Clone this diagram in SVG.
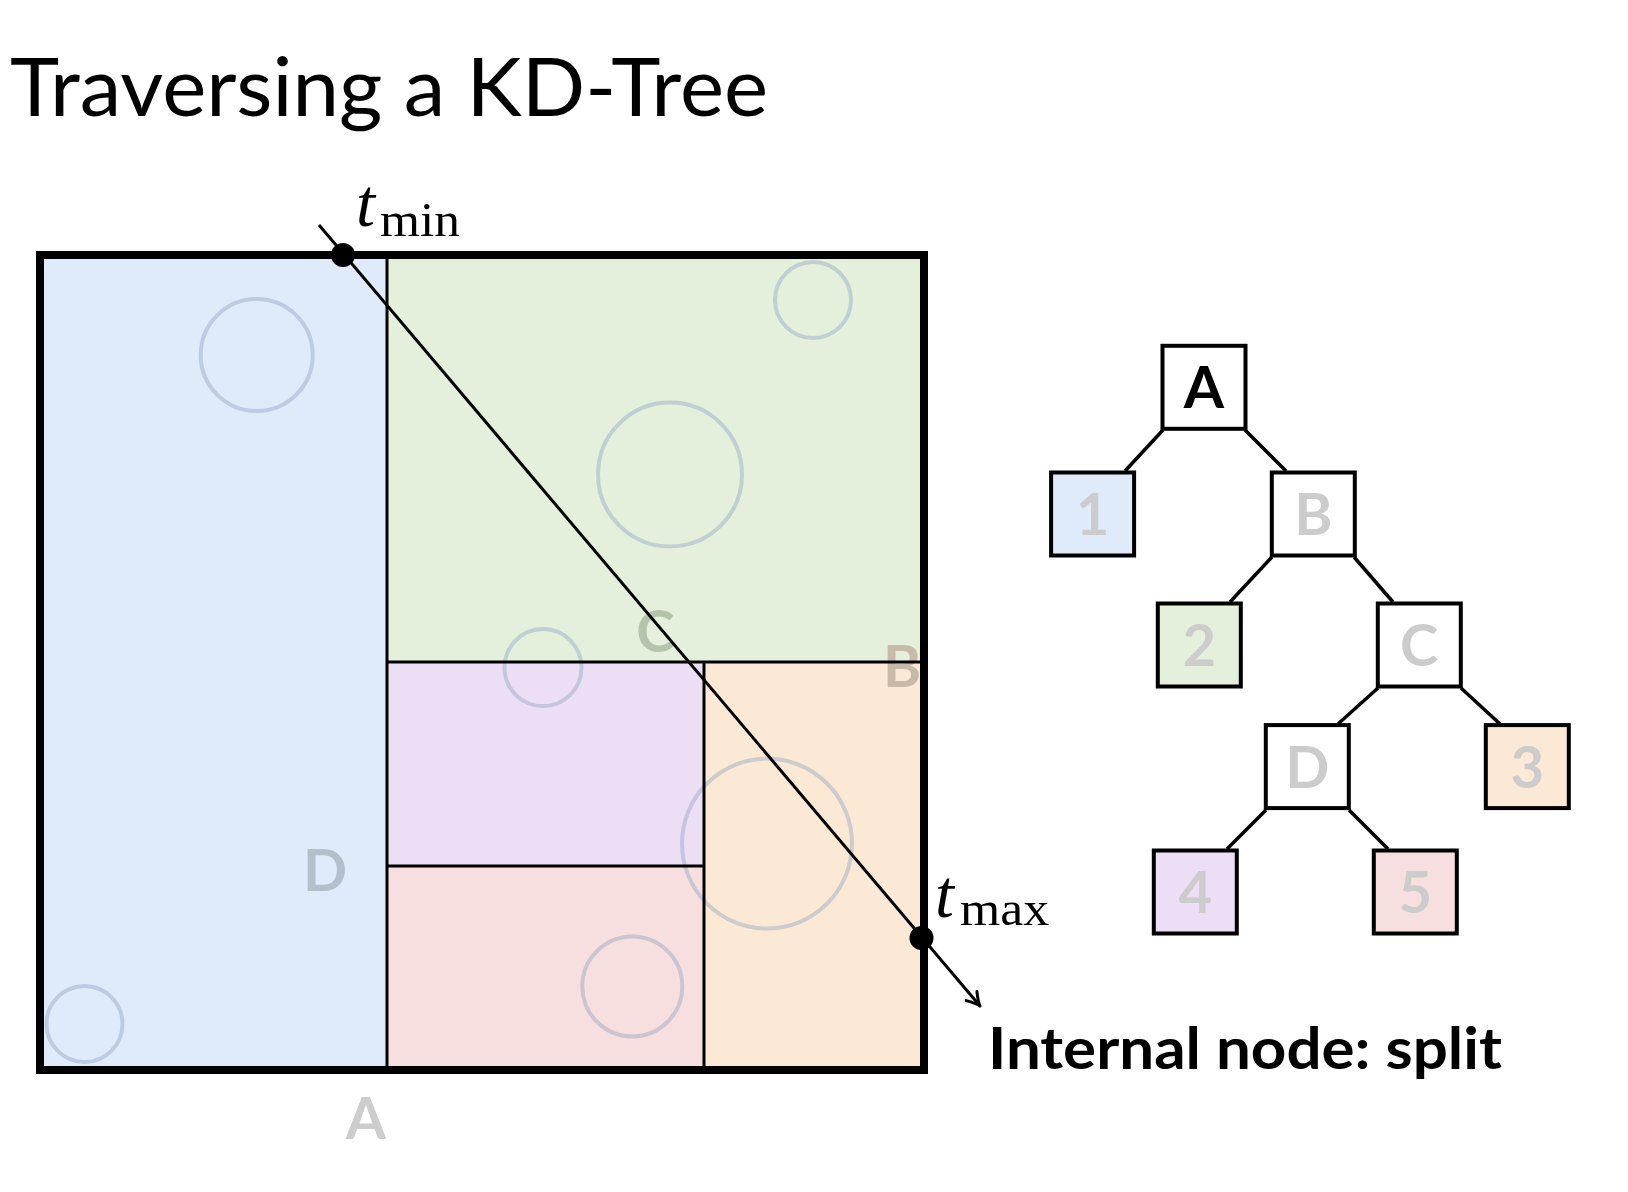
<svg xmlns="http://www.w3.org/2000/svg" width="1628" height="1192" viewBox="0 0 1628 1192">
<defs>
<style>
.title{font-family:Lato,"Open Sans","Liberation Sans",sans-serif;font-size:82px;font-weight:400;fill:#000}
.lbl{font-family:Lato,"Open Sans","Liberation Sans",sans-serif;font-size:58px;font-weight:700;text-anchor:middle}
.gray{fill:#cccccc}
.circ{fill:none;stroke:#8fa3c0;stroke-opacity:0.42;stroke-width:4}
.split{stroke:#000;stroke-width:3;fill:none}
.box{stroke:#000;stroke-width:4}
.edge{stroke:#000;stroke-width:3.5;fill:none}
.math{font-family:"Liberation Serif","DejaVu Serif",serif;fill:#000}
.cap{font-family:Lato,"Open Sans","Liberation Sans",sans-serif;font-size:57px;font-weight:700;fill:#000}
</style>
<marker id="arr" markerUnits="userSpaceOnUse" markerWidth="30" markerHeight="30" refX="0" refY="0" orient="auto" overflow="visible">
<path d="M -13 -7 Q -5 -1.5 0 0 Q -5 1.5 -13 7" fill="none" stroke="#000" stroke-width="3" stroke-linecap="round" stroke-linejoin="round"/>
</marker>
</defs>
<rect width="1628" height="1192" fill="#fff"/>
<text class="title" x="10" y="116" textLength="758" lengthAdjust="spacingAndGlyphs">Traversing a KD-Tree</text>

<g id="space">
<rect x="40" y="255" width="347" height="815" fill="#dfebfb"/>
<rect x="387" y="255" width="537" height="407" fill="#e4f0dc"/>
<rect x="387" y="662" width="317" height="204" fill="#ecdff5"/>
<rect x="387" y="866" width="317" height="204" fill="#f7dfdf"/>
<rect x="704" y="662" width="220" height="408" fill="#fbe9d6"/>
<circle class="circ" cx="256.7" cy="355" r="56"/>
<circle class="circ" cx="84.5" cy="1024" r="38"/>
<circle class="circ" cx="813" cy="300" r="38"/>
<circle class="circ" cx="670" cy="474.5" r="72"/>
<circle class="circ" cx="543" cy="667.6" r="38.5"/>
<circle class="circ" cx="767" cy="843.6" r="85"/>
<circle class="circ" cx="632.3" cy="986.4" r="50"/>
<text class="lbl" x="325" y="891" fill="#b4bfcc">D</text>
<text class="lbl" x="655.5" y="652" fill="#b5c3ad">C</text>
<text class="lbl" x="902" y="687" fill="#c8baa9">B</text>
<text class="lbl" x="366" y="1139" fill="#cdcdcd">A</text>
<line class="split" x1="387" y1="255" x2="387" y2="1070"/>
<line class="split" x1="387" y1="662" x2="924" y2="662"/>
<line class="split" x1="704" y1="662" x2="704" y2="1070"/>
<line class="split" x1="387" y1="866" x2="704" y2="866"/>
<rect x="40" y="255" width="884" height="815" fill="none" stroke="#000" stroke-width="8"/>
</g>

<g id="ray">
<line x1="319" y1="225" x2="980" y2="1006" stroke="#000" stroke-width="3" marker-end="url(#arr)"/>
<circle cx="343" cy="255" r="12" fill="#000"/>
<circle cx="921.5" cy="938" r="12" fill="#000"/>
<text class="math" x="356" y="226"><tspan font-style="italic" font-size="68">t</tspan><tspan font-size="48" x="380" y="236" textLength="80" lengthAdjust="spacingAndGlyphs">min</tspan></text>
<text class="math" x="935" y="917"><tspan font-style="italic" font-size="68">t</tspan><tspan font-size="48" x="960" y="925" textLength="89" lengthAdjust="spacingAndGlyphs">max</tspan></text>
</g>

<g id="connectors">
<line class="edge" x1="1163" y1="430" x2="1125" y2="471"/>
<line class="edge" x1="1245" y1="430" x2="1286" y2="471"/>
<line class="edge" x1="1272" y1="557" x2="1230" y2="602"/>
<line class="edge" x1="1354" y1="557" x2="1393" y2="602"/>
<line class="edge" x1="1378" y1="688" x2="1338" y2="724"/>
<line class="edge" x1="1461" y1="688" x2="1500" y2="724"/>
<line class="edge" x1="1266" y1="810" x2="1227" y2="849"/>
<line class="edge" x1="1349" y1="810" x2="1388" y2="849"/>
</g>

<g id="node-A"><rect class="box" x="1162.5" y="345.8" width="83" height="83" fill="#fff"/><text class="lbl" x="1204" y="408.3" fill="#000">A</text></g>
<g id="node-1"><rect class="box" x="1051.1" y="472.5" width="83" height="83" fill="#dfebfb"/><text class="lbl gray" x="1092.6" y="535">1</text></g>
<g id="node-B"><rect class="box" x="1271.8" y="472.5" width="83" height="83" fill="#fff"/><text class="lbl gray" x="1313.3" y="535">B</text></g>
<g id="node-2"><rect class="box" x="1157.8" y="603.5" width="83" height="83" fill="#e4f0dc"/><text class="lbl gray" x="1199.3" y="666">2</text></g>
<g id="node-C"><rect class="box" x="1377.8" y="603.5" width="83" height="83" fill="#fff"/><text class="lbl gray" x="1419.3" y="666">C</text></g>
<g id="node-D"><rect class="box" x="1265.8" y="725.1" width="83" height="83" fill="#fff"/><text class="lbl gray" x="1307.3" y="787.6">D</text></g>
<g id="node-3"><rect class="box" x="1485.8" y="725.1" width="83" height="83" fill="#fbe9d6"/><text class="lbl gray" x="1527.3" y="787.6">3</text></g>
<g id="node-4"><rect class="box" x="1153.8" y="850.5" width="83" height="83" fill="#ecdff5"/><text class="lbl gray" x="1195.3" y="913">4</text></g>
<g id="node-5"><rect class="box" x="1373.8" y="850.5" width="83" height="83" fill="#f7dfdf"/><text class="lbl gray" x="1415.3" y="913">5</text></g>

<text class="cap" x="988" y="1069" textLength="514" lengthAdjust="spacingAndGlyphs">Internal node: split</text>
</svg>
